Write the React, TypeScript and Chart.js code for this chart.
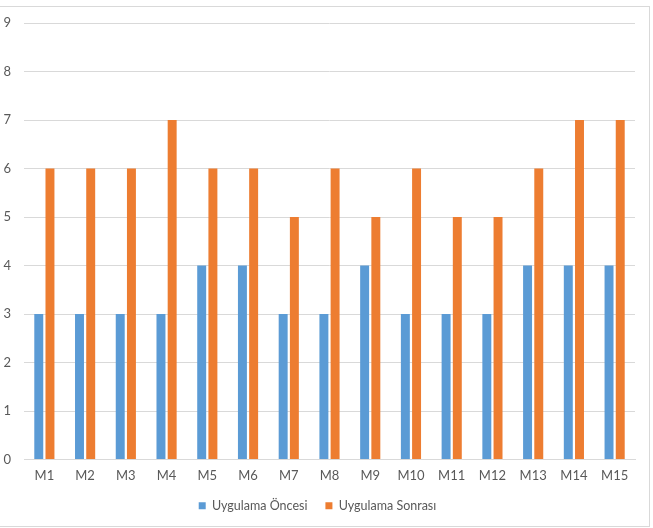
import React, { useEffect, useRef } from "react";
import { Chart, registerables } from "chart.js";

Chart.register(...registerables);

const categories = ["M1","M2","M3","M4","M5","M6","M7","M8","M9","M10","M11","M12","M13","M14","M15"];
const seriesNames = ["Uygulama Öncesi", "Uygulama Sonrası"];
const before = [3,3,3,3,4,4,3,3,4,3,3,3,4,4,4];
const after = [6,6,6,7,6,6,5,6,5,6,5,5,6,7,7];
const yTicks = [0,1,2,3,4,5,6,7,8,9];

const FONT = "Lato, 'Open Sans', sans-serif";
const TEXT = "#595959";
const GRID = "#d9d9d9";

export default function App() {
  const ref = useRef<HTMLCanvasElement | null>(null);
  useEffect(() => {
    if (!ref.current) return;
    const chart = new Chart(ref.current, {
      type: "bar",
      data: {
        labels: categories,
        datasets: [
          { label: seriesNames[0], data: before, backgroundColor: "#5B9BD5", barPercentage: 0.8, categoryPercentage: 0.55 },
          { label: seriesNames[1], data: after, backgroundColor: "#ED7D31", barPercentage: 0.8, categoryPercentage: 0.55 },
        ],
      },
      options: {
        responsive: false,
        animation: false,
        layout: { padding: { left: 0, right: 18, top: 23, bottom: 6 } },
        plugins: {
          tooltip: { enabled: false },
          legend: {
            position: "bottom",
            labels: {
              boxWidth: 7,
              boxHeight: 7,
              padding: 18,
              color: TEXT,
              font: { family: FONT, size: 12.5 },
            },
          },
        },
        scales: {
          x: {
            grid: { display: false, drawTicks: false },
            border: { display: true, color: GRID, width: 1 },
            ticks: { color: TEXT, font: { family: FONT, size: 13 }, padding: 9 },
            afterFit: (s: any) => { s.height = 22; },
          },
          y: {
            min: 0,
            max: 9,
            afterBuildTicks: (s: any) => { s.ticks = yTicks.map((v) => ({ value: v })); },
            grid: { color: GRID, drawTicks: false },
            border: { display: false },
            ticks: { color: TEXT, font: { family: FONT, size: 13 }, padding: 13 },
            afterFit: (s: any) => { s.width = 24; },
          },
        },
      },
    });
    return () => chart.destroy();
  }, []);
  return (
    <div style={{ position: "fixed", left: 0, top: 0, width: 653, height: 528, background: "#fff" }}>
      <div style={{ position: "absolute", left: -2, top: 6, width: 650, height: 519, border: "1px solid #d9d9d9" }} />
      <canvas ref={ref} width={653} height={528} style={{ position: "absolute", left: 0, top: 0 }} />
    </div>
  );
}
